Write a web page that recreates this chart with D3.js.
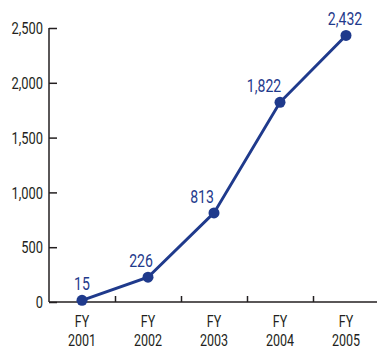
<!DOCTYPE html>
<html><head><meta charset="utf-8">
<script src="https://cdn.jsdelivr.net/npm/d3@7"></script>
<style>
html,body{margin:0;padding:0;background:#fff;}
svg{display:block;}
text{font-family:"Roboto","Liberation Sans",sans-serif;}
</style></head>
<body>
<svg id="chart" width="377" height="350"></svg>
<script>
const categories = ["FY 2001","FY 2002","FY 2003","FY 2004","FY 2005"];
const values = [15, 226, 813, 1822, 2432];
const valueLabels = ["15","226","813","1,822","2,432"];
const yTicks = [0, 500, 1000, 1500, 2000, 2500];

(function(){
const svg = d3.select("#chart");
const mLeft = 49, mRight = 379, mTop = 28, mBottom = 302;
const axisColor = "#231f20", blue = "#1f3a8c";
const SX = 0.76;
const place = (sel, fx, fy) => sel.attr("transform", (d, i) => `translate(${fx(d, i)},${fy(d, i)}) scale(${SX},1)`);

const x = d3.scaleBand().domain(categories).range([mLeft, mRight]);
const y = d3.scaleLinear().domain([0, 2500]).range([mBottom, mTop]);

// Y axis
const yAxis = svg.append("g").attr("transform", `translate(${mLeft},0)`)
  .call(d3.axisRight(y).tickValues(yTicks).tickSize(8).tickFormat(""));
yAxis.select(".domain").attr("stroke", axisColor).attr("stroke-width", 1.5).attr("d", `M0,${mTop}V${mBottom}`);
yAxis.selectAll(".tick line").attr("stroke", axisColor).attr("stroke-width", 1.5);
svg.append("g").selectAll("text").data(yTicks).join("text")
  .call(place, () => mLeft - 6, d => y(d))
  .attr("dy", "0.36em")
  .attr("text-anchor", "end").attr("font-size", 17).attr("fill", axisColor)
  .text(d => d3.format(",")(d));

// X axis
const xAxis = svg.append("g").attr("transform", `translate(0,${mBottom})`)
  .call(d3.axisTop(d3.scaleLinear().domain([0, 5]).range([mLeft, mRight]))
    .tickValues([1,2,3,4]).tickSize(6).tickFormat(""));
xAxis.select(".domain").attr("stroke", axisColor).attr("stroke-width", 1.5).attr("d", `M${mLeft},0H${mRight}`);
xAxis.selectAll(".tick line").attr("stroke", axisColor).attr("stroke-width", 1.5);
const cx = d => x(d) + x.bandwidth()/2;
const xl = svg.append("g").selectAll("text").data(categories).join("text")
  .call(place, d => cx(d), () => 0)
  .attr("text-anchor", "middle").attr("font-size", 16.5).attr("fill", axisColor);
xl.append("tspan").attr("x", 0).attr("y", 327).text(d => d.split(" ")[0]);
xl.append("tspan").attr("x", 0).attr("y", 346).text(d => d.split(" ")[1]);

// Line
const pts = categories.map((c, i) => [cx(c), y(values[i])]);
svg.append("path").attr("d", d3.line()(pts)).attr("fill", "none")
  .attr("stroke", blue).attr("stroke-width", 3);
svg.append("g").selectAll("circle").data(pts).join("circle")
  .attr("cx", d => d[0]).attr("cy", d => d[1]).attr("r", 5.5).attr("fill", blue);

// Value labels
const labelDx = [0, -7, -12, -16, -1];
svg.append("g").selectAll("text").data(pts).join("text")
  .call(place, (d, i) => d[0] + labelDx[i], d => d[1] - 10)
  .attr("text-anchor", "middle").attr("font-size", 18.5).attr("fill", blue)
  .text((d, i) => valueLabels[i]);
})();
</script>
</body></html>
